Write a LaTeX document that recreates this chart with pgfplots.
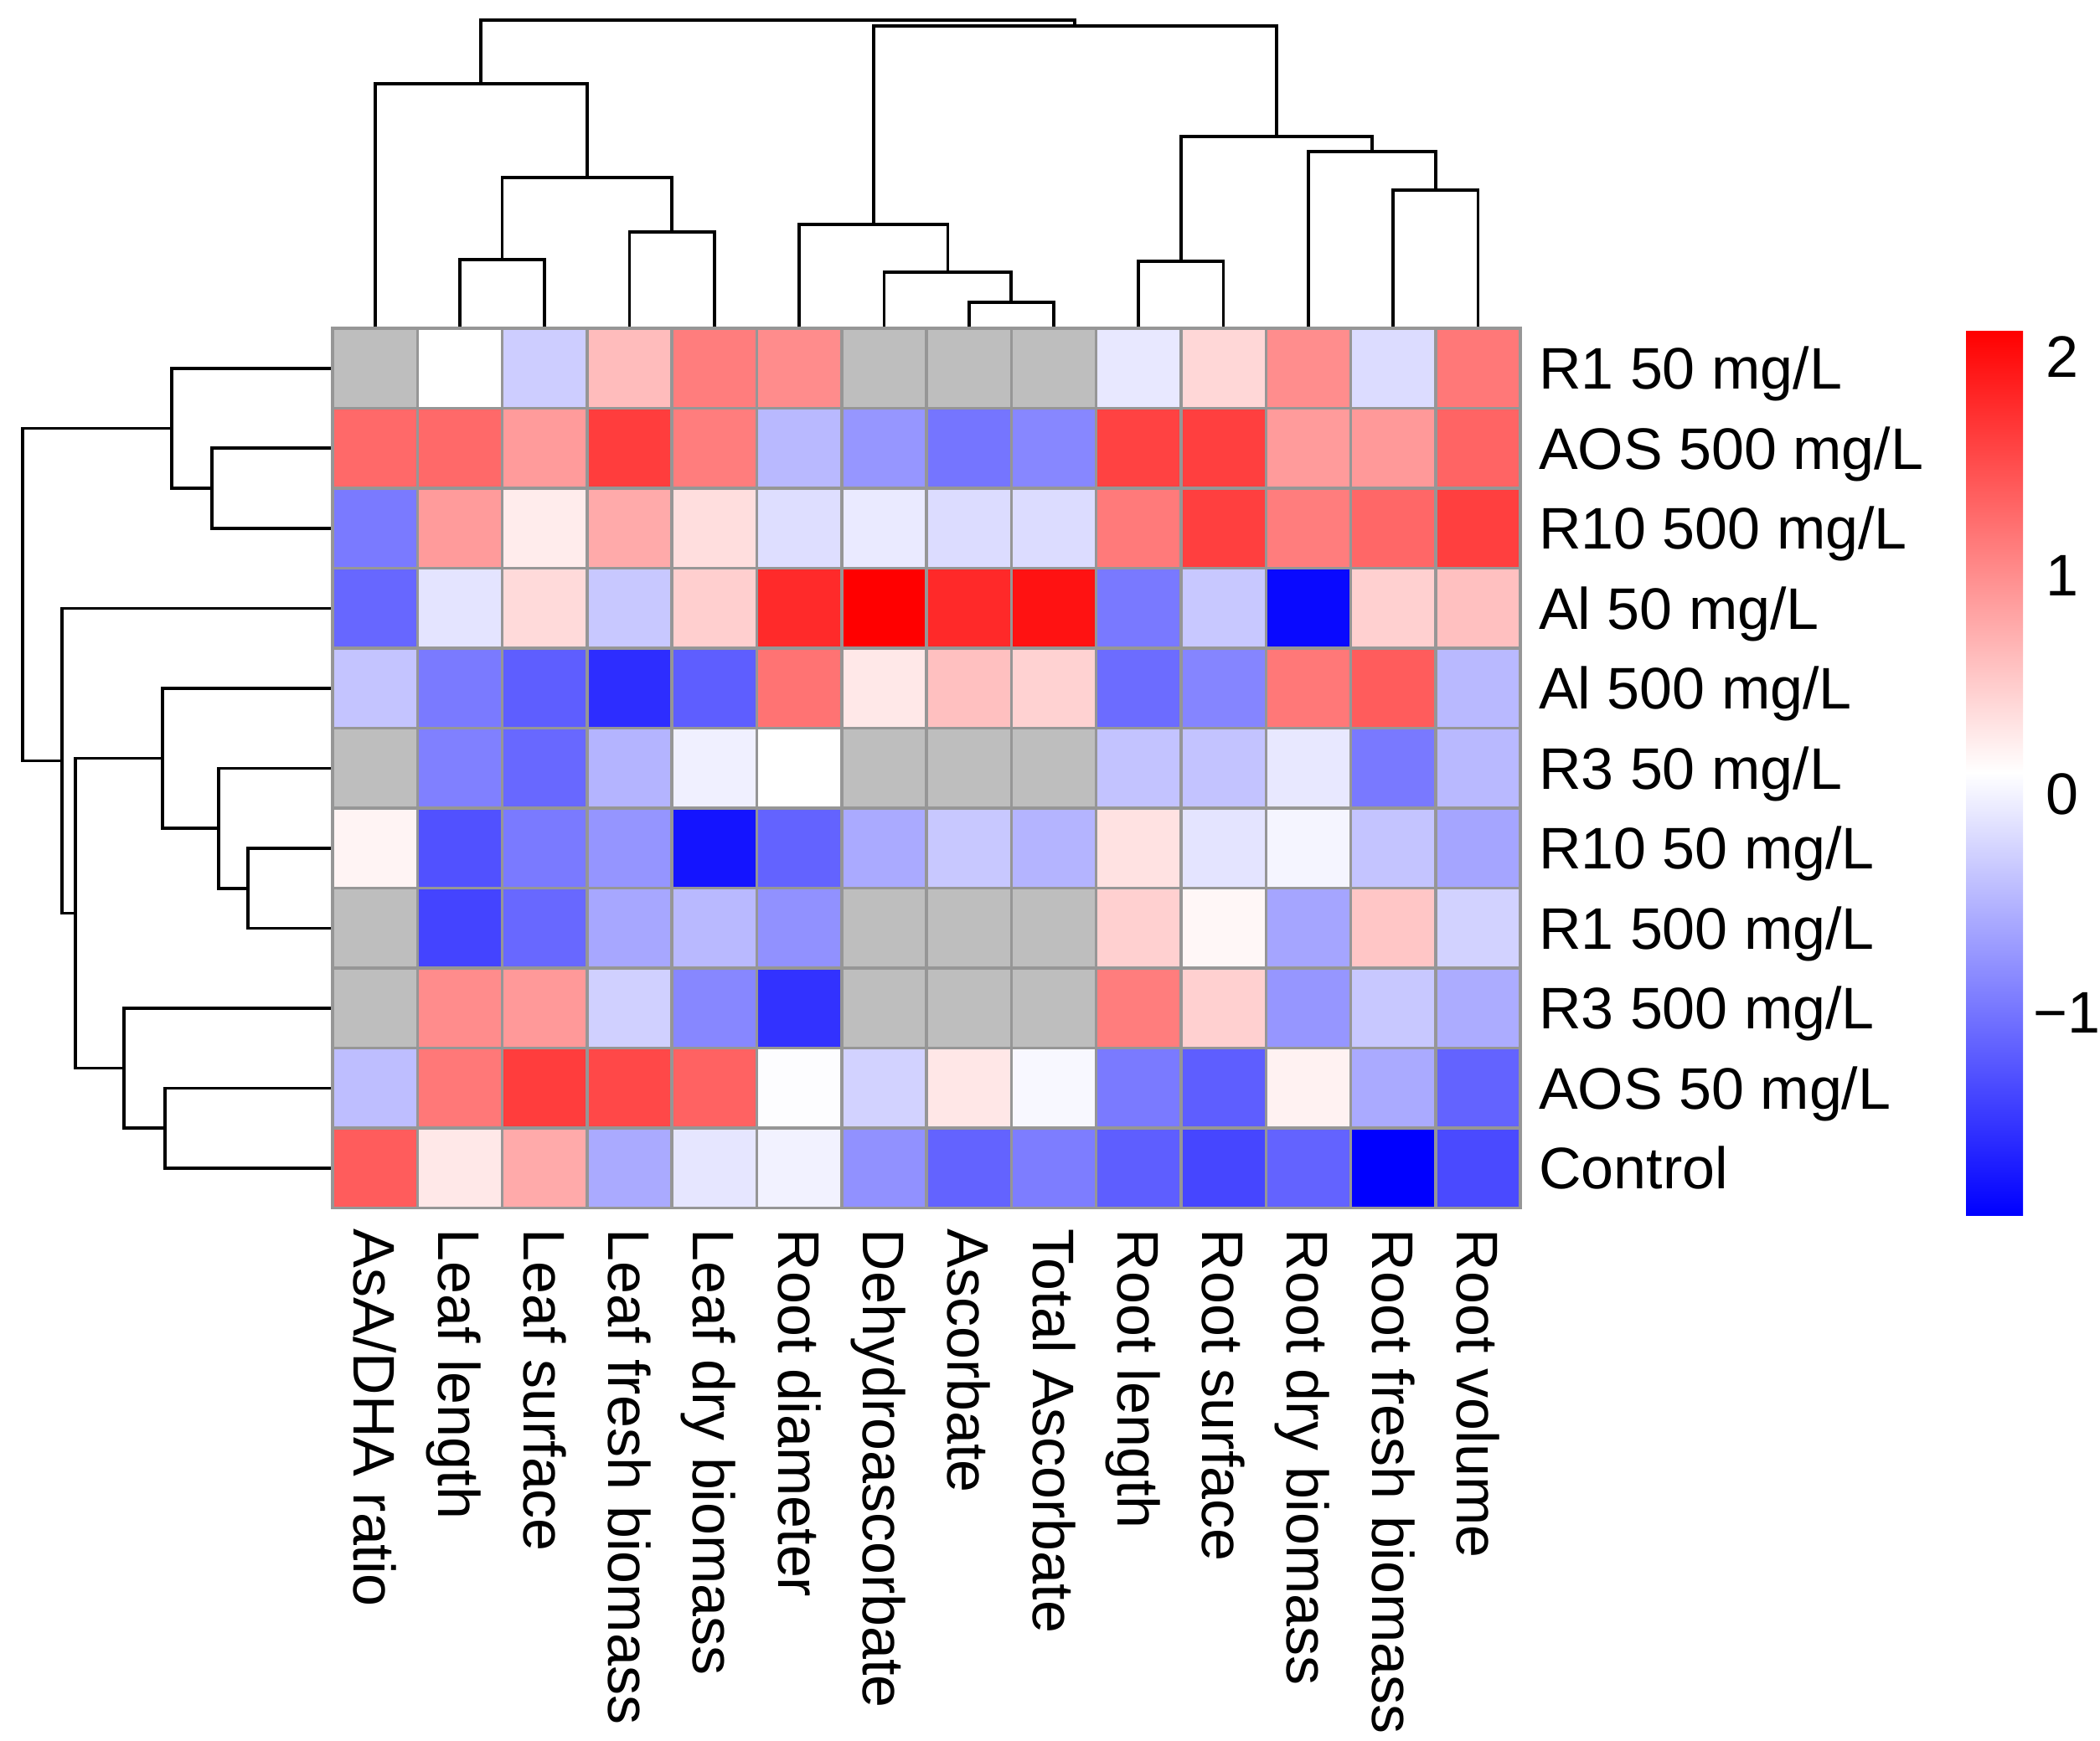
\documentclass[border=0pt]{standalone}
\usepackage{pgfplots}
\pgfplotsset{compat=1.18}
\usepackage{pgfplotstable}
\usepackage{fontspec}
\setmainfont{Liberation Sans}
\definecolor{cellgray}{RGB}{150,150,150}
\definecolor{nagray}{RGB}{190,190,190}
\newcommand\lblfont{\fontsize{14}{16.8}\selectfont}
\pgfdeclareplotmark{cell}{\pgfpathrectangle{\pgfpoint{-10.1285pt}{-9.55pt}}{\pgfpoint{20.257pt}{19.1pt}}\pgfusepathqfillstroke}
\pgfplotsset{dendro/.style={black, solid, line width=0.75pt, mark=none, line join=miter, forget plot}}

% x = column (0 = AsA/DHA ratio ... 13 = Root volume), y = 10 - row (row 0 = R1 50 mg/L at top)
\pgfplotstableread{
x y v
1 10 0.10
2 10 -0.30
3 10 0.63
4 10 1.13
5 10 1.01
9 10 -0.09
10 10 0.41
11 10 1.00
12 10 -0.18
13 10 1.17
0 9 1.29
1 9 1.29
2 9 0.89
3 9 1.64
4 9 1.13
5 9 -0.46
6 9 -0.74
7 9 -1.00
8 9 -0.86
9 9 1.60
10 9 1.62
11 9 0.89
12 9 0.91
13 9 1.33
0 8 -0.96
1 8 0.89
2 8 0.25
3 8 0.77
4 8 0.36
5 8 -0.17
6 8 -0.07
7 8 -0.18
8 8 -0.18
9 8 1.15
10 8 1.62
11 8 1.13
12 8 1.30
13 8 1.62
0 7 -1.11
1 7 -0.12
2 7 0.39
3 7 -0.34
4 7 0.48
5 7 1.79
6 7 2.12
7 7 1.80
8 7 1.98
9 7 -0.97
10 7 -0.34
11 7 -1.86
12 7 0.47
13 7 0.60
0 6 -0.37
1 6 -0.96
2 6 -1.18
3 6 -1.57
4 6 -1.18
5 6 1.21
6 6 0.28
7 6 0.60
8 6 0.45
9 6 -1.07
10 6 -0.87
11 6 1.17
12 6 1.39
13 6 -0.46
1 5 -0.91
2 5 -1.10
3 5 -0.50
4 5 -0.02
5 5 0.10
9 5 -0.38
10 5 -0.38
11 5 -0.09
12 5 -0.97
13 5 -0.46
0 4 0.18
1 4 -1.29
2 4 -0.96
3 4 -0.75
4 4 -1.77
5 4 -1.14
6 4 -0.58
7 4 -0.34
8 4 -0.50
9 4 0.33
10 4 -0.12
11 4 0.02
12 4 -0.37
13 4 -0.62
1 3 -1.39
2 3 -1.10
3 3 -0.60
4 3 -0.46
5 3 -0.78
9 3 0.47
10 3 0.16
11 3 -0.62
12 3 0.55
13 3 -0.26
1 2 1.01
2 2 0.91
3 2 -0.28
4 2 -0.86
5 2 -1.53
9 2 1.13
10 2 0.47
11 2 -0.74
12 2 -0.34
13 2 -0.56
0 1 -0.42
1 1 1.17
2 1 1.64
3 1 1.55
4 1 1.34
5 1 0.08
6 1 -0.26
7 1 0.29
8 1 0.04
9 1 -0.96
10 1 -1.18
11 1 0.20
12 1 -0.58
13 1 -1.14
0 0 1.39
1 0 0.28
2 0 0.77
3 0 -0.58
4 0 -0.10
5 0 -0.01
6 0 -0.78
7 0 -1.14
8 0 -0.94
9 0 -1.18
10 0 -1.37
11 0 -1.14
12 0 -1.93
13 0 -1.34
}\heat

\pgfplotstableread{
x y
0 10
6 10
7 10
8 10
0 5
6 5
7 5
8 5
0 3
6 3
7 3
8 3
0 2
6 2
7 2
8 2
}\nacells

\begin{document}
\begin{tikzpicture}
\begin{axis}[
  scale only axis,
  width=283.6pt, height=210.1pt,
  xmin=-0.5, xmax=13.5, ymin=-0.5, ymax=10.5,
  clip=false,
  axis line style={draw=none},
  major tick length=0pt,
  tick style={draw=none},
  xtick={0,...,13},
  xticklabels={AsA/DHA ratio, Leaf length, Leaf surface, Leaf fresh biomass, Leaf dry biomass, Root diameter, Dehydroascorbate, Ascorbate, Total Ascorbate, Root length, Root surface, Root dry biomass, Root fresh biomass, Root volume},
  xticklabel style={font=\lblfont, rotate=-90, anchor=west, inner sep=0pt, text height=10pt, text depth=0pt},
  xticklabel shift=4.8pt,
  ytick={0,...,10},
  yticklabels={Control, AOS 50 mg/L, R3 500 mg/L, R1 500 mg/L, R10 50 mg/L, R3 50 mg/L, Al 500 mg/L, Al 50 mg/L, R10 500 mg/L, AOS 500 mg/L, R1 50 mg/L},
  yticklabel pos=right,
  yticklabel style={font=\lblfont, anchor=west, inner sep=0pt, text height=10pt, text depth=0pt},
  yticklabel shift=4.2pt,
  colormap={bwr}{rgb255=(0,0,255) rgb255=(255,255,255) rgb255=(255,0,0)},
  point meta min=-1.93, point meta max=2.12,
  colorbar,
  colorbar style={
    at={(parent axis.north east)}, anchor=north west,
    xshift=97.86pt, yshift=-0.4pt,
    scale only axis,
    width=13.6pt, height=211.4pt,
    axis line style={draw=none},
    major tick length=0pt, tick style={draw=none},
    ytick={-1,0,1,2},
    yticklabels={−1,\kern3pt 0,\kern3pt 1,\kern3pt 2},
    yticklabel style={font=\lblfont, anchor=west, inner sep=0pt, text height=10pt, text depth=0pt},
    yticklabel shift=2.2pt,
  },
]
\addplot[scatter, only marks, mark=cell,
  scatter/use mapped color={draw=cellgray, fill=mapped color, line width=0.7pt},
  point meta=explicit] table[x=x, y=y, meta=v] {\heat};
\addplot[only marks, mark=cell, mark options={draw=cellgray, fill=nagray, line width=0.7pt}] table[x=x, y=y] {\nacells};

% column dendrogram
\addplot[dendro] coordinates {(1,10.5)(1,11.359)(2,11.359)(2,10.5)};
\addplot[dendro] coordinates {(3,10.5)(3,11.704)(4,11.704)(4,10.5)};
\addplot[dendro] coordinates {(1.5,11.359)(1.5,12.385)(3.5,12.385)(3.5,11.704)};
\addplot[dendro] coordinates {(0,10.5)(0,13.558)(2.5,13.558)(2.5,12.385)};
\addplot[dendro] coordinates {(7,10.5)(7,10.825)(8,10.825)(8,10.5)};
\addplot[dendro] coordinates {(6,10.5)(6,11.202)(7.5,11.202)(7.5,10.825)};
\addplot[dendro] coordinates {(5,10.5)(5,11.798)(6.75,11.798)(6.75,11.202)};
\addplot[dendro] coordinates {(9,10.5)(9,11.338)(10,11.338)(10,10.5)};
\addplot[dendro] coordinates {(12,10.5)(12,12.228)(13,12.228)(13,10.5)};
\addplot[dendro] coordinates {(11,10.5)(11,12.709)(12.5,12.709)(12.5,12.228)};
\addplot[dendro] coordinates {(9.5,11.338)(9.5,12.898)(11.75,12.898)(11.75,12.709)};
\addplot[dendro] coordinates {(5.875,11.798)(5.875,14.280)(10.625,14.280)(10.625,12.898)};
\addplot[dendro] coordinates {(1.25,13.558)(1.25,14.353)(8.25,14.353)(8.25,14.280)};

% row dendrogram
\addplot[dendro] coordinates {(-0.5,9)(-1.922,9)(-1.922,8)(-0.5,8)};
\addplot[dendro] coordinates {(-0.5,10)(-2.395,10)(-2.395,8.5)(-1.922,8.5)};
\addplot[dendro] coordinates {(-0.5,4)(-1.497,4)(-1.497,3)(-0.5,3)};
\addplot[dendro] coordinates {(-0.5,5)(-1.843,5)(-1.843,3.5)(-1.497,3.5)};
\addplot[dendro] coordinates {(-0.5,6)(-2.504,6)(-2.504,4.25)(-1.843,4.25)};
\addplot[dendro] coordinates {(-0.5,1)(-2.474,1)(-2.474,0)(-0.5,0)};
\addplot[dendro] coordinates {(-0.5,2)(-2.958,2)(-2.958,0.5)(-2.474,0.5)};
\addplot[dendro] coordinates {(-2.504,5.125)(-3.531,5.125)(-3.531,1.25)(-2.958,1.25)};
\addplot[dendro] coordinates {(-0.5,7)(-3.689,7)(-3.689,3.1875)(-3.531,3.1875)};
\addplot[dendro] coordinates {(-2.395,9.25)(-4.153,9.25)(-4.153,5.094)(-3.689,5.094)};

\path (axis cs:-4.419,-7.16) rectangle (axis cs:20.33,14.605);
\end{axis}
\end{tikzpicture}
\end{document}
